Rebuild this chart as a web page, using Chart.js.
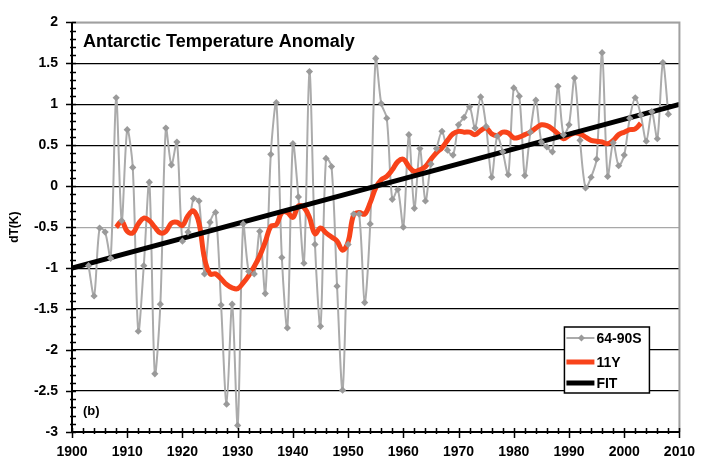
<!DOCTYPE html>
<html>
<head>
<meta charset="utf-8">
<script src="https://cdn.jsdelivr.net/npm/chart.js@4.4.1/dist/chart.umd.min.js"></script>
<style>
  html, body { margin: 0; padding: 0; background: #ffffff; }
  #wrap { width: 707px; height: 464px; }
</style>
</head>
<body>
<div id="wrap"><canvas id="chart" width="707" height="464"></canvas></div>
<script>
// Annual temperature anomaly, 64-90S band (K), one value per year from 1903
const stationFirstYear = 1903;
const stationAnomaly = [
  -0.97, -1.34, -0.51, -0.56, -0.88,  1.08, -0.42,  0.69,  0.23, -1.77,   // 1903-1912
  -0.97,  0.05, -2.29, -1.44,  0.71,  0.26,  0.54, -0.67, -0.56, -0.15,   // 1913-1922
  -0.18, -1.07, -0.44, -0.32, -1.45, -2.66, -1.44, -2.92, -0.46, -1.04,   // 1923-1932
  -1.07, -0.55, -1.31,  0.39,  1.02, -0.87, -1.73,  0.52, -0.13, -0.94,   // 1933-1942
   1.40, -0.71, -1.71,  0.34,  0.24, -1.22, -2.49, -0.71, -0.34, -0.34,   // 1943-1952
  -1.42, -0.46,  1.56,  1.01,  0.83, -0.16, -0.04, -0.50,  0.63, -0.27,   // 1953-1962
   0.46, -0.18,  0.27,  0.46,  0.67,  0.44,  0.38,  0.75,  0.84,  0.97,   // 1963-1972
   0.71,  1.09,  0.73,  0.11,  0.61,  0.42,  0.14,  1.20,  1.10,  0.13,   // 1973-1982
   0.66,  1.05,  0.54,  0.48,  0.42,  1.22,  0.63,  0.75,  1.32,  0.56,   // 1983-1992
  -0.02,  0.11,  0.33,  1.63,  0.12,  0.53,  0.25,  0.38,  0.83,  1.08,   // 1993-2002
   0.87,  0.55,  0.91,  0.58,  1.51,  0.88                                // 2003-2008
];

// 11-year running mean, one value per year from 1908
const smoothFirstYear = 1908;
const runningMean11 = [
  -0.50, -0.43, -0.55, -0.57, -0.46, -0.39, -0.42, -0.50, -0.57, -0.55,   // 1908-1917
  -0.45, -0.44, -0.48, -0.36, -0.30, -0.45, -0.88, -1.07, -1.07, -1.13,   // 1918-1927
  -1.20, -1.24, -1.25, -1.18, -1.09, -0.98, -0.85, -0.68, -0.49, -0.47,   // 1928-1937
  -0.32, -0.32, -0.38, -0.24, -0.26, -0.38, -0.58, -0.51, -0.57, -0.62,   // 1938-1947
  -0.67, -0.78, -0.68, -0.35, -0.32, -0.34, -0.20, -0.02,  0.08,  0.12,   // 1948-1957
   0.20,  0.30,  0.33,  0.24,  0.18,  0.20,  0.24,  0.33,  0.41,  0.47,   // 1958-1967
   0.56,  0.64,  0.67,  0.66,  0.66,  0.63,  0.68,  0.71,  0.64,  0.62,   // 1968-1977
   0.66,  0.65,  0.59,  0.60,  0.63,  0.66,  0.71,  0.75,  0.74,  0.70,   // 1978-1987
   0.64,  0.58,  0.62,  0.65,  0.64,  0.60,  0.56,  0.55,  0.54,  0.52,   // 1988-1997
   0.56,  0.63,  0.66,  0.69,  0.70,  0.77                                // 1998-2003
];

// Linear trend end points
const fitYears = [1900, 2010];
const fitValues = [-1.0, 1.0];

// Axis ticks
const xTickYears = [1900, 1910, 1920, 1930, 1940, 1950, 1960, 1970, 1980, 1990, 2000, 2010];
const yTickValues = [-3, -2.5, -2, -1.5, -1, -0.5, 0, 0.5, 1, 1.5, 2];

const seriesNames = ['64-90S', '11Y', 'FIT'];

const toPoints = (first, values) => values.map((v, i) => ({ x: first + i, y: v }));
const stationPoints = toPoints(stationFirstYear, stationAnomaly);
const meanPoints = toPoints(smoothFirstYear, runningMean11);
const fitPoints = fitYears.map((yr, i) => ({ x: yr, y: fitValues[i] }));

const GRAY_LINE = '#ababab';
const GRAY_MARK = '#9a9a9a';
const RED = '#f8431a';
const FAMILY = '"Liberation Sans", Arial, sans-serif';
const BOLD = 'bold 14px ' + FAMILY;

// Axis lines, minor/major tick marks, frame, inner title, panel tag and legend
const decorations = {
  id: 'decorations',
  afterDraw(chart) {
    const { ctx, chartArea: a, scales: { x, y } } = chart;
    ctx.save();

    // gray frame on top and right
    ctx.strokeStyle = '#a0a0a0';
    ctx.lineWidth = 2;
    ctx.beginPath();
    ctx.moveTo(a.left, a.top); ctx.lineTo(a.right, a.top); ctx.lineTo(a.right, a.bottom);
    ctx.stroke();

    // black axes
    ctx.strokeStyle = '#000';
    ctx.lineWidth = 2;
    ctx.beginPath();
    ctx.moveTo(a.left, a.top); ctx.lineTo(a.left, a.bottom); ctx.lineTo(a.right, a.bottom);
    ctx.stroke();

    // x ticks: every 2 years minor, every 10 years major
    ctx.lineWidth = 1.5;
    ctx.beginPath();
    for (let yr = x.min; yr <= x.max; yr += 2) {
      const px = Math.round(x.getPixelForValue(yr)) + 0.5;
      const major = yr % 10 === 0;
      ctx.moveTo(px, a.bottom - 4);
      ctx.lineTo(px, a.bottom + (major ? 6 : 2));
    }
    ctx.stroke();

    // y ticks: every 0.1 minor, every 0.5 major
    ctx.beginPath();
    for (let k = Math.round(y.min * 10); k <= Math.round(y.max * 10); k++) {
      const py = Math.round(y.getPixelForValue(k / 10)) + 0.5;
      const major = k % 5 === 0;
      ctx.moveTo(a.left - (major ? 6 : 2), py);
      ctx.lineTo(a.left + 4, py);
    }
    ctx.stroke();

    // inner title and panel tag
    ctx.fillStyle = '#000';
    ctx.textBaseline = 'alphabetic';
    ctx.textAlign = 'left';
    ctx.font = 'bold 18px ' + FAMILY;
    ctx.fillText('Antarctic Temperature Anomaly', a.left + 11, a.top + 25);
    ctx.font = 'bold 13px ' + FAMILY;
    ctx.fillText('(b)', a.left + 11, a.bottom - 17);

    // legend box
    const bx = a.right - 115, by = a.bottom - 105, bw = 85, bh = 66;
    ctx.fillStyle = '#fff';
    ctx.fillRect(bx, by, bw, bh);
    ctx.strokeStyle = '#000';
    ctx.lineWidth = 1.5;
    ctx.strokeRect(bx, by, bw, bh);

    const ds = chart.data.datasets;
    const rows = [
      { ds: ds[2], marker: true, y: by + 11 },
      { ds: ds[1], marker: false, y: by + 35 },
      { ds: ds[0], marker: false, y: by + 56 }
    ];
    rows.forEach(r => {
      ctx.strokeStyle = r.ds.borderColor;
      ctx.lineWidth = r.ds.borderWidth;
      ctx.lineCap = 'butt';
      ctx.beginPath();
      ctx.moveTo(bx + 2, r.y);
      ctx.lineTo(bx + 30, r.y);
      ctx.stroke();
      if (r.marker) {
        ctx.fillStyle = GRAY_MARK;
        ctx.beginPath();
        ctx.moveTo(bx + 17, r.y - 3.5); ctx.lineTo(bx + 20.5, r.y);
        ctx.lineTo(bx + 17, r.y + 3.5); ctx.lineTo(bx + 13.5, r.y);
        ctx.closePath(); ctx.fill();
      }
      ctx.fillStyle = '#000';
      ctx.font = BOLD;
      ctx.textBaseline = 'middle';
      ctx.fillText(r.ds.label, bx + 32, r.y + 1);
    });

    ctx.restore();
  }
};

new Chart(document.getElementById('chart').getContext('2d'), {
  type: 'line',
  data: {
    datasets: [
      {
        label: seriesNames[2],
        data: fitPoints,
        borderColor: '#000',
        borderWidth: 5,
        pointRadius: 0,
        order: 1
      },
      {
        label: seriesNames[1],
        data: meanPoints,
        borderColor: RED,
        borderWidth: 5,
        pointRadius: 0,
        tension: 0.4,
        order: 2
      },
      {
        label: seriesNames[0],
        data: stationPoints,
        borderColor: GRAY_LINE,
        borderWidth: 2,
        pointRadius: 0,
        tension: 0.3,
        order: 3
      },
      {
        label: seriesNames[0] + ' markers',
        data: stationPoints,
        showLine: false,
        pointStyle: 'rectRot',
        pointRadius: 3.6,
        pointBackgroundColor: GRAY_MARK,
        pointBorderColor: GRAY_MARK,
        pointBorderWidth: 0,
        order: 0
      }
    ]
  },
  options: {
    responsive: false,
    animation: false,
    events: [],
    layout: { padding: { top: 12, right: 18, left: 0, bottom: 0 } },
    plugins: {
      legend: { display: false },
      tooltip: { enabled: false },
      title: { display: false }
    },
    scales: {
      x: {
        type: 'linear',
        min: 1900,
        max: 2010,
        afterFit: s => { s.height = 32; },
        afterBuildTicks: s => { s.ticks = xTickYears.map(v => ({ value: v })); },
        grid: { display: false, drawTicks: false },
        border: { display: false },
        ticks: {
          padding: 12,
          color: '#000',
          font: { family: FAMILY, size: 14, weight: 'bold' },
          maxRotation: 0,
          autoSkip: false,
          callback: v => String(v)
        }
      },
      y: {
        min: -3,
        max: 2,
        afterFit: s => { s.width = 72; },
        afterBuildTicks: s => { s.ticks = yTickValues.map(v => ({ value: v })); },
        grid: {
          drawTicks: false,
          lineWidth: 1.3,
          color: c => (c.tick && (c.tick.value === -0.5 || c.tick.value === 2)) ? '#a8a8a8' : '#000'
        },
        border: { display: false },
        title: {
          display: true,
          text: 'dT(K)',
          color: '#000',
          padding: { top: 7, bottom: 0 },
          font: { family: FAMILY, size: 12, weight: 'bold' }
        },
        ticks: {
          padding: 14,
          color: '#000',
          font: { family: FAMILY, size: 14, weight: 'bold' },
          autoSkip: false,
          callback: v => String(Math.round(v * 10) / 10)
        }
      }
    }
  },
  plugins: [decorations]
});
</script>
</body>
</html>
